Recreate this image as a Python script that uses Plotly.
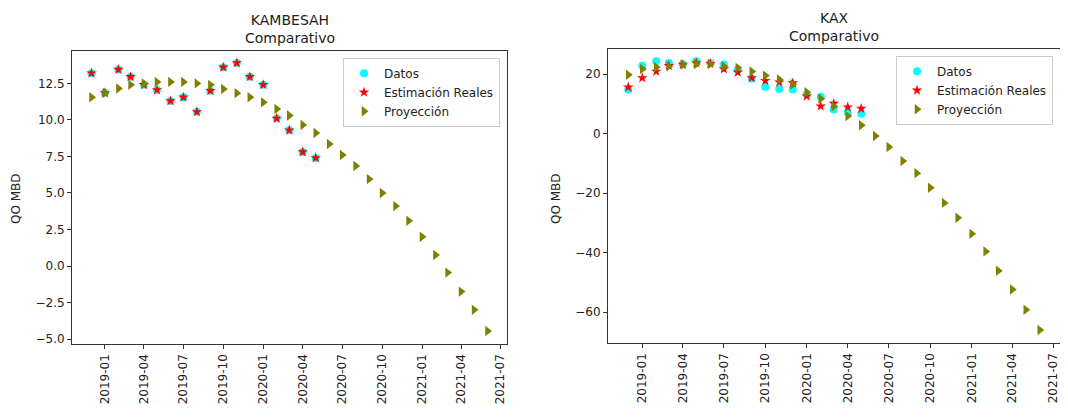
import plotly.graph_objects as go
import pandas as pd

# ---- Data ----
fechas_datos = pd.date_range("2018-12-01", "2020-05-01", freq="MS")
fechas_proy = pd.date_range("2018-12-01", "2021-06-01", freq="MS")

kambesah_datos = [13.2, 11.85, 13.45, 12.95, 12.4, 12.05, 11.3, 11.55, 10.55, 12.0,
                  13.6, 13.9, 12.95, 12.4, 10.1, 9.3, 7.8, 7.4]
kambesah_estim = [13.2, 11.85, 13.45, 12.95, 12.4, 12.05, 11.3, 11.55, 10.55, 12.0,
                  13.6, 13.9, 12.95, 12.4, 10.1, 9.3, 7.8, 7.4]
kambesah_proy = [11.55, 11.85, 12.15, 12.4, 12.5, 12.6, 12.6, 12.6, 12.5, 12.4,
                 12.12, 11.83, 11.55, 11.2, 10.75, 10.3, 9.65, 9.1, 8.35, 7.6,
                 6.85, 5.95, 5.0, 4.1, 3.1, 2.0, 0.75, -0.45, -1.75, -3.0, -4.45]

kax_datos = [14.8, 22.8, 24.3, 23.7, 23.2, 24.3, 23.7, 23.2, 21.5, 18.5,
             15.7, 15.0, 14.8, 13.1, 12.4, 8.1, 7.0, 6.7]
kax_estim = [15.6, 18.7, 20.9, 22.8, 23.2, 23.7, 23.5, 21.7, 20.6, 18.7,
             17.8, 17.3, 17.0, 12.6, 9.2, 10.1, 8.9, 8.4]
kax_proy = [19.8, 21.7, 22.3, 22.6, 23.2, 23.4, 23.4, 22.6, 22.1, 20.9,
            19.5, 18.2, 16.5, 13.9, 11.7, 9.2, 5.9, 2.8, -0.8, -4.5,
            -9.2, -13.3, -18.2, -23.3, -28.3, -33.7, -39.6, -46.1, -52.4, -59.2, -66.0]

nombres = ["Datos", "Estimación Reales", "Proyección"]
titulos = ["KAMBESAH<br>Comparativo", "KAX<br>Comparativo"]
ytitulo = "QO MBD"

FONT = "DejaVu Sans"
fig = go.Figure()

def add_panel(xa, ya, leg, d, e, p):
    fig.add_trace(go.Scatter(x=fechas_datos, y=d, mode="markers", name=nombres[0],
                             marker=dict(symbol="circle", size=8, color="#00FFFF"),
                             xaxis=xa, yaxis=ya, legend=leg))
    fig.add_trace(go.Scatter(x=fechas_datos, y=e, mode="markers", name=nombres[1],
                             marker=dict(symbol="star", size=8, color="#FF0000"),
                             xaxis=xa, yaxis=ya, legend=leg))
    fig.add_trace(go.Scatter(x=fechas_proy, y=p, mode="markers", name=nombres[2],
                             marker=dict(symbol="triangle-right", size=9, color="#808000"),
                             xaxis=xa, yaxis=ya, legend=leg))

add_panel("x", "y", "legend", kambesah_datos, kambesah_estim, kambesah_proy)
add_panel("x2", "y2", "legend2", kax_datos, kax_estim, kax_proy)

# page has an 8px body margin; figure is sized to fit the window
OFF = 8
W, H = 1068 - OFF, 419 - OFF
def dx(px): return (px - OFF) / W
def dy(py): return 1 - (py - OFF) / H

xcommon = dict(type="date", range=["2018-10-17", "2021-07-16"], tick0="2019-01-01",
               dtick="M3", tickformat="%Y-%m", tickangle=-90, showgrid=False,
               zeroline=False, showline=True, linecolor="#333", linewidth=1, mirror=True,
               ticks="outside", ticklen=4, tickcolor="#333",
               tickfont=dict(family=FONT, size=12, color="#222"))
ycommon = dict(showgrid=False, zeroline=False, showline=True, linecolor="#333",
               linewidth=1, mirror=True, ticks="outside", ticklen=4, tickcolor="#333",
               tickfont=dict(family=FONT, size=12, color="#222"))

fig.update_layout(
    width=W, height=H,
    margin=dict(l=0, r=0, t=0, b=0),
    paper_bgcolor="white", plot_bgcolor="white",
    font=dict(family=FONT, size=12, color="#222"),
    xaxis=dict(domain=[dx(72), dx(507)], anchor="y", **xcommon),
    yaxis=dict(domain=[dy(346), dy(51)], anchor="x", range=[-5.36, 14.73],
               tick0=0, dtick=2.5, tickformat=".1f", **ycommon),
    xaxis2=dict(domain=[dx(608), dx(1060)], anchor="y2", **xcommon),
    yaxis2=dict(domain=[dy(345), dy(49)], anchor="x2", range=[-70.5, 28.5],
                tick0=0, dtick=20, **ycommon),
    legend=dict(x=dx(500), y=dy(58), xanchor="right", yanchor="top",
                bgcolor="rgba(255,255,255,0.8)", bordercolor="#ccc", borderwidth=1,
                font=dict(family=FONT, size=12, color="#222"), tracegroupgap=0),
    legend2=dict(x=dx(1053), y=dy(56), xanchor="right", yanchor="top",
                 bgcolor="rgba(255,255,255,0.8)", bordercolor="#ccc", borderwidth=1,
                 font=dict(family=FONT, size=12, color="#222"), tracegroupgap=0),
    annotations=[
        dict(text=titulos[0], x=(dx(72) + dx(507)) / 2, y=dy(48), xref="paper", yref="paper",
             xanchor="center", yanchor="bottom", showarrow=False,
             font=dict(family=FONT, size=14, color="#222")),
        dict(text=titulos[1], x=(dx(608) + dx(1060)) / 2, y=dy(46), xref="paper", yref="paper",
             xanchor="center", yanchor="bottom", showarrow=False,
             font=dict(family=FONT, size=14, color="#222")),
        dict(text=ytitulo, x=dx(16), y=dy(200), xref="paper", yref="paper",
             xanchor="center", yanchor="middle", showarrow=False, textangle=-90,
             font=dict(family=FONT, size=12, color="#222")),
        dict(text=ytitulo, x=dx(556), y=dy(200), xref="paper", yref="paper",
             xanchor="center", yanchor="middle", showarrow=False, textangle=-90,
             font=dict(family=FONT, size=12, color="#222")),
    ],
)

fig.write_html("out.html")
